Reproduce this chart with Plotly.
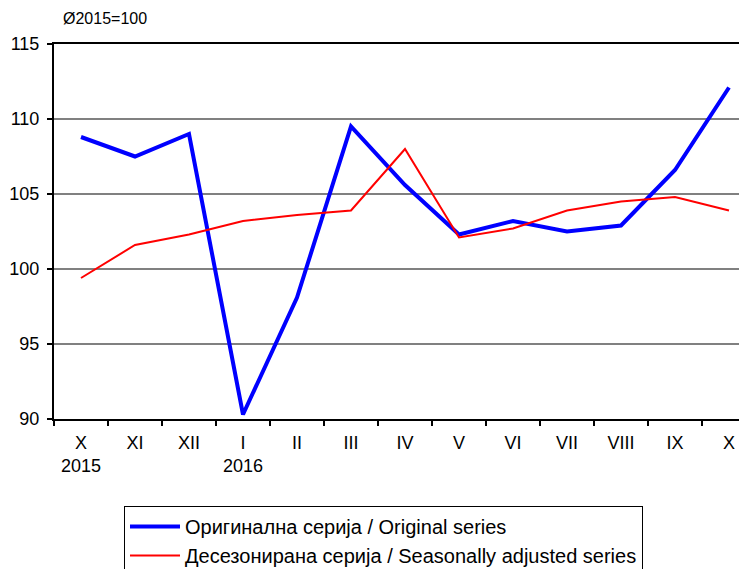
import plotly.graph_objects as go

months = ["X", "XI", "XII", "I", "II", "III", "IV", "V", "VI", "VII", "VIII", "IX", "X "]
tick_labels = ["X<br>2015", "XI", "XII", "I<br>2016", "II", "III", "IV", "V", "VI", "VII", "VIII", "IX", "X"]
original = [108.8, 107.5, 109.0, 90.3, 98.1, 109.5, 105.6, 102.3, 103.2, 102.5, 102.9, 106.6, 112.1]
seasonal = [99.4, 101.6, 102.3, 103.2, 103.6, 103.9, 108.0, 102.1, 102.7, 103.9, 104.5, 104.8, 103.9]

fig = go.Figure()
fig.add_trace(go.Scatter(x=months, y=original, mode="lines",
                         name="Оригинална серија / Original series",
                         line=dict(color="#0000FF", width=4)))
fig.add_trace(go.Scatter(x=months, y=seasonal, mode="lines",
                         name="Десезонирана серија / Seasonally adjusted series",
                         line=dict(color="#FF0000", width=2)))

PW = 702  # plot width in px
fig.update_layout(
    width=748, height=561,
    margin=dict(l=46, r=0, t=36, b=150, autoexpand=False),
    paper_bgcolor="white", plot_bgcolor="white",
    font=dict(family="Liberation Sans, Arial", color="black", size=17),
    showlegend=True,
    legend=dict(x=(124-54)/PW, y=-(506-419)/375, xanchor="left", yanchor="top",
                bordercolor="black", borderwidth=1, font=dict(size=20),
                tracegroupgap=0, itemwidth=50),
    annotations=[dict(text="Ø2015=100", x=(61-54)/PW, y=1+(44-18)/375,
                      xref="paper", yref="paper", xanchor="left", yanchor="middle",
                      showarrow=False, font=dict(size=16))],
)

fig.update_xaxes(type="category", tickmode="array", tickvals=months, ticktext=tick_labels,
                 range=[-0.5, 12.5], showline=True, linecolor="black", linewidth=2, mirror=True,
                 ticks="outside", tickson="boundaries", ticklen=5, tickwidth=2, tickcolor="black",
                 showgrid=False, tickfont=dict(size=18), ticklabelstandoff=6)
fig.update_yaxes(range=[90, 115], tickvals=[90, 95, 100, 105, 110, 115],
                 showline=True, linecolor="black", linewidth=2,
                 ticks="outside", ticklen=5, tickwidth=2, tickcolor="black",
                 showgrid=True, gridcolor="#808080", gridwidth=1.5,
                 tickfont=dict(size=18), zeroline=False, ticklabelstandoff=4)

fig.write_html("out.html")
